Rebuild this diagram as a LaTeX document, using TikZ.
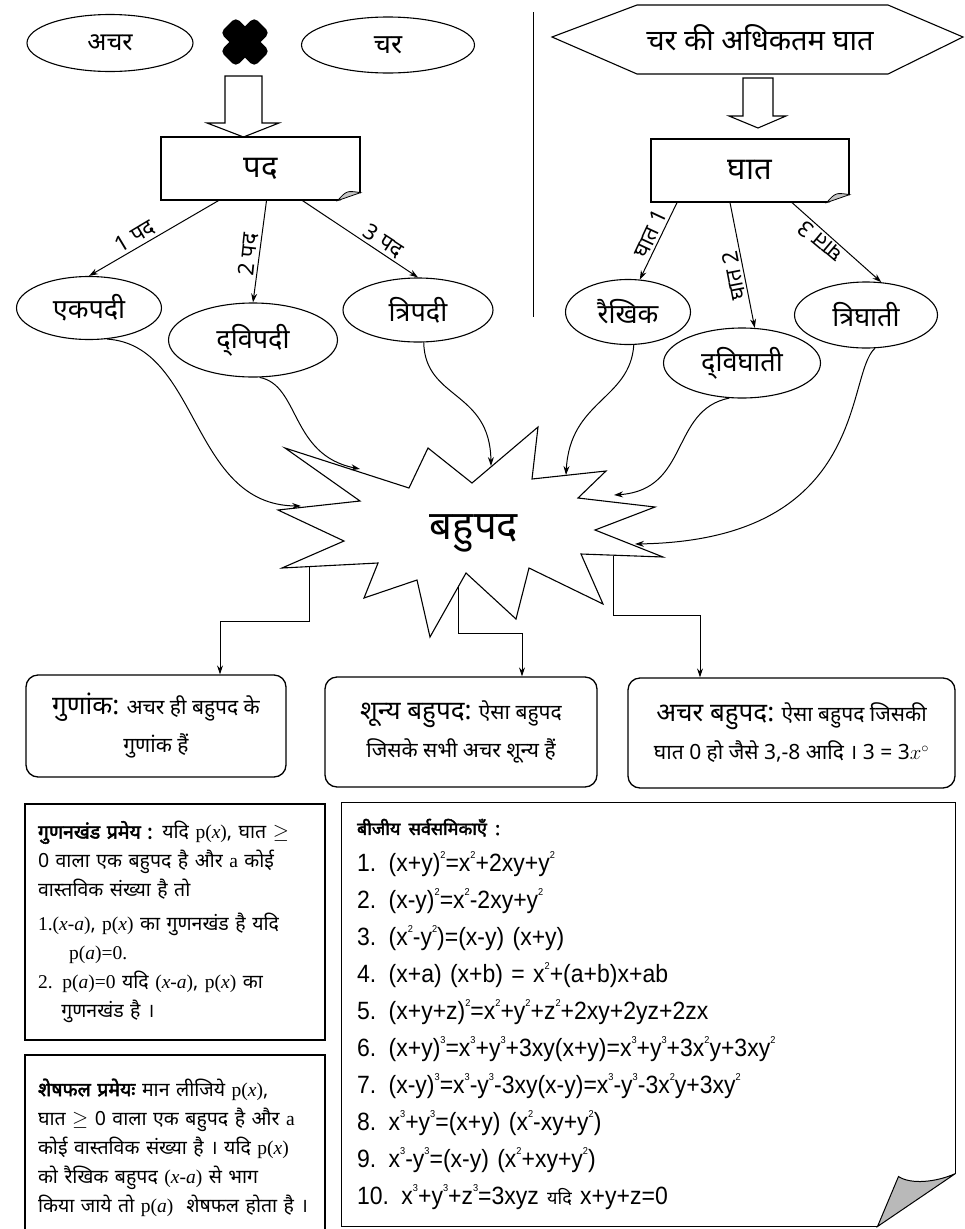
\documentclass[tikz,border=0pt]{standalone}
\usepackage{fontspec}
\setmainfont{Liberation Sans}
\newfontfamily\dev[Script=Devanagari, BoldFont={Noto Sans}, BoldFeatures={FakeBold=2.5}]{Noto Sans}
\newfontfamily\eqf{Liberation Sans}[FakeStretch=0.92]
\newfontfamily\serf{Liberation Serif}
\usepackage{tikz}
\usetikzlibrary{arrows.meta, positioning, shapes.geometric}
\newcommand\pw[1]{\raisebox{1.05ex}{\fontsize{10}{10}\selectfont #1}}
\newcommand\pof[1]{{\serf p(\textit{#1})}}
\newcommand\xma{{\serf(\textit{x}-\textit{a})}}

\begin{document}
\begin{tikzpicture}[x=1pt, y=-1pt, line width=1pt, >={Stealth[length=9pt, width=6pt]},
    oval/.style={ellipse, draw, line width=1.1pt, inner sep=0pt, font=\dev\fontsize{25}{28}\selectfont},
    kid/.style={oval, font=\dev\fontsize{27}{30}\selectfont},
    headbox/.style={rectangle, draw, line width=1.2pt, inner sep=0pt, font=\dev\fontsize{31}{34}\selectfont},
    elab/.style={anchor=south, inner sep=2pt, font=\dev\fontsize{22}{24}\selectfont},
    curvy/.style={->, line width=1pt},
    infobox/.style={rectangle, draw, rounded corners=12pt, line width=1.3pt, align=center, inner sep=0pt, font=\dev\fontsize{21}{38}\selectfont},
    thmbox/.style={rectangle, draw, line width=1.2pt, align=left, inner xsep=13pt, text width=274pt, font=\dev\fontsize{19.5}{29}\selectfont}]
    \useasboundingbox (0,0) rectangle (965,1229);

    % pad side
    \node[oval, minimum width=166pt, minimum height=57pt] (achar) at (110,43) {अचर};
    \node[oval, minimum width=173pt, minimum height=56pt, font=\dev\fontsize{27}{30}\selectfont] (char) at (388,45) {चर};
    \fill[rounded corners=5pt, rotate around={45:(245,42)}] (221,31) rectangle (269,53);
    \fill[rounded corners=5pt, rotate around={-45:(245,42)}] (221,31) rectangle (269,53);
    \draw[line width=1.1pt] (225,76) -- (262,76) -- (262,123) -- (279,123) -- (243.5,137) -- (207,123) -- (225,123) -- cycle;
    \node[headbox, minimum width=199pt, minimum height=63pt] (pad) at (260.5,168.5) {पद};

    \node[kid, minimum width=145pt, minimum height=63pt] (ekpadi) at (89,308) {एकपदी};
    \node[kid, minimum width=169pt, minimum height=74pt] (dvipadi) at (253,340) {द्^^^^200cविपदी};
    \node[kid, minimum width=150pt, minimum height=64pt] (tripadi) at (418,310) {त्रिपदी};

    \draw[->] ([xshift=-42pt]pad.south) -- node[elab, pos=0.6, rotate=31] {1 पद} (ekpadi.north);
    \draw[->] ([xshift=6pt]pad.south) -- node[elab, pos=0.54, rotate=84] {2 पद} (dvipadi.north);
    \draw[->] ([xshift=42pt]pad.south) -- node[elab, pos=0.65, rotate=-33] {3 पद} (tripadi.north);

    \draw (533,12) -- (533,317);

    % ghat side
    \draw[line width=1.1pt] (552,37) -- (637,5) -- (888,5) -- (963,37) -- (888,74) -- (637,74) -- cycle;
    \node[font=\dev\fontsize{29}{32}\selectfont] (maxghat) at (760,38) {चर की अधिकतम घात};
    \draw[line width=1.1pt] (743,78) -- (773,78) -- (773,116) -- (786,116) -- (758,128) -- (729,116) -- (743,116) -- cycle;
    \node[headbox, minimum width=198pt, minimum height=63pt] (ghat) at (750,170.5) {घात};

    \node[kid, minimum width=125pt, minimum height=65pt] (rekhik) at (628,312) {रैखिक};
    \node[kid, minimum width=157pt, minimum height=70pt] (dvighati) at (742,363) {द्^^^^200cविघाती};
    \node[kid, minimum width=143pt, minimum height=66pt] (trighati) at (866,315) {त्रिघाती};

    \draw[->] ([xshift=-73pt]ghat.south) -- node[elab, pos=0.46, rotate=65] {घात 1} (rekhik.70);
    \draw[->] ([xshift=-20pt]ghat.south) -- node[elab, pos=0.57, rotate=101] {घात 2} (dvighati.70);
    \draw[->] ([xshift=42pt]ghat.south) -- node[elab, pos=0.39, rotate=140] {घात 3} (trighati.65);

    % folded corners
    \foreach \b in {pad, ghat} {
        \fill[white] ([xshift=-23pt]\b.south east) -- ([xshift=1pt,yshift=-1pt]\b.south east) -- ([yshift=8pt]\b.south east) -- cycle;
        \filldraw[fill=gray!45, line width=0.8pt] ([xshift=-23pt]\b.south east) .. controls ([xshift=-14pt,yshift=10pt]\b.south east) .. ([yshift=8pt]\b.south east) -- cycle;
    }

    % bahupad
    \draw[line width=1.1pt] (538,427) -- (532,479) -- (606,471) -- (578,498) -- (655,507) -- (595,530) -- (663,557) -- (581,554) -- (603,604) -- (529,568) -- (516,619) -- (466,573) -- (430,637) -- (417,580) -- (364,598) -- (378,563) -- (282,568) -- (344,541) -- (278,510) -- (360,501) -- (285,448) -- (409,488) -- (428,448) -- (472,483) -- cycle;
    \node[font=\dev\fontsize{40}{44}\selectfont] (bahupad) at (474,533) {बहुपद};
    \coordinate (in1) at (301,506);
    \coordinate (in2) at (360,469);
    \coordinate (in3) at (491,466);
    \coordinate (in4) at (566,475);
    \coordinate (in5) at (614,495);
    \coordinate (in6) at (635,544);
    \coordinate (out1) at (309,567);
    \coordinate (out2) at (458,587);
    \coordinate (out3) at (613,556);

    \draw[curvy] (ekpadi.-60) .. controls (200,345) and (190,505) .. (in1);
    \draw[curvy] (dvipadi.-80) .. controls (300,385) and (290,455) .. (in2);
    \draw[curvy] (tripadi.-80) .. controls (425,400) and (490,390) .. (in3);
    \draw[curvy] (rekhik.-80) .. controls (630,400) and (570,400) .. (in4);
    \draw[curvy] (dvighati.-110) .. controls (670,410) and (690,490) .. (in5);
    \draw[curvy] (trighati.-75) .. controls (845,375) and (870,540) .. (in6);

    % kinds
    \node[infobox, minimum width=260pt, minimum height=102pt] (gunank) at (156,726)
        {{\fontsize{26}{38}\selectfont गुणांक:} अचर ही बहुपद के\\ गुणांक हैं};
    \node[infobox, minimum width=272pt, minimum height=110pt] (shunya) at (461,732)
        {{\fontsize{26}{38}\selectfont शून्य बहुपद:} ऐसा बहुपद\\ जिसके सभी अचर शून्य हैं};
    \node[infobox, minimum width=327pt, minimum height=110pt] (achbahu) at (791.5,733)
        {{\fontsize{26}{38}\selectfont अचर बहुपद:} ऐसा बहुपद जिसकी\\ घात 0 हो जैसे 3,-8 आदि । 3 = 3$x^{\circ}$};

    \draw[->] (out1) -- ++(0,54) -| ([xshift=64pt]gunank.north);
    \draw[->] (out2) -- ++(0,46) -| ([xshift=61pt]shunya.north);
    \draw[->] (out3) -- ++(0,59) -| ([xshift=-91.5pt]achbahu.north);

    % theorems
    \node[thmbox, minimum width=300pt, minimum height=236pt] (gunthm) at (175,922)
        {\textbf{गुणनखंड प्रमेय :} यदि \pof{x}, घात $\geq$\\
         0 वाला एक बहुपद है और {\serf a} कोई\\
         वास्तविक संख्या है तो\\[5pt]
         {\serf 1.}\xma, \pof{x} का गुणनखंड है यदि\\
         \hspace*{1.6em}\pof{a}{\serf =0.}\\
         {\serf 2.} \pof{a}{\serf =0} यदि \xma, \pof{x} का\\
         \hspace*{1.2em}गुणनखंड है ।};
    \node[thmbox, minimum width=300pt, minimum height=185pt] (sheshthm) at (175,1147.5)
        {\textbf{शेषफल प्रमेयः} मान लीजिये \pof{x},\\
         घात $\geq$ 0 वाला एक बहुपद है और {\serf a}\\
         कोई वास्तविक संख्या है । यदि \pof{x}\\
         को रैखिक बहुपद \xma{} से भाग\\
         किया जाये तो \pof{a} \ शेषफल होता है ।};

    % identities
    \node[minimum width=613pt, minimum height=423pt, inner xsep=15pt, text width=583pt, align=left,
          font=\eqf\fontsize{25}{37}\selectfont] (alg) at (648.5,1014.5)
        {{\dev\bfseries\fontsize{18}{37}\selectfont बीजीय सर्वसमिकाएँ :}\\
         1. (x+y)\pw2=x\pw2+2xy+y\pw2\\
         2. (x-y)\pw2=x\pw2-2xy+y\pw2\\
         3. (x\pw2-y\pw2)=(x-y) (x+y)\\
         4. (x+a) (x+b) = x\pw2+(a+b)x+ab\\
         5. (x+y+z)\pw2=x\pw2+y\pw2+z\pw2+2xy+2yz+2zx\\
         6. (x+y)\pw3=x\pw3+y\pw3+3xy(x+y)=x\pw3+y\pw3+3x\pw2y+3xy\pw2\\
         7. (x-y)\pw3=x\pw3-y\pw3-3xy(x-y)=x\pw3-y\pw3-3x\pw2y+3xy\pw2\\
         8. x\pw3+y\pw3=(x+y) (x\pw2-xy+y\pw2)\\
         9. x\pw3-y\pw3=(x-y) (x\pw2+xy+y\pw2)\\
         10. x\pw3+y\pw3+z\pw3=3xyz {\dev\fontsize{18}{37}\selectfont यदि} x+y+z=0};
    \draw[line width=1.2pt] (alg.south west) -- (alg.north west) -- (alg.north east) -- ([yshift=53pt]alg.south east);
    \draw[line width=1.2pt] (alg.south west) -- ([xshift=-78pt]alg.south east);
    \filldraw[fill=gray!55, line width=1pt] ([xshift=-78pt]alg.south east) -- ([yshift=53pt]alg.south east)
        .. controls ([xshift=-20pt,yshift=44pt]alg.south east) and ([xshift=-45pt,yshift=42pt]alg.south east) .. ([xshift=-57pt,yshift=50pt]alg.south east) -- cycle;
\end{tikzpicture}
\end{document}
